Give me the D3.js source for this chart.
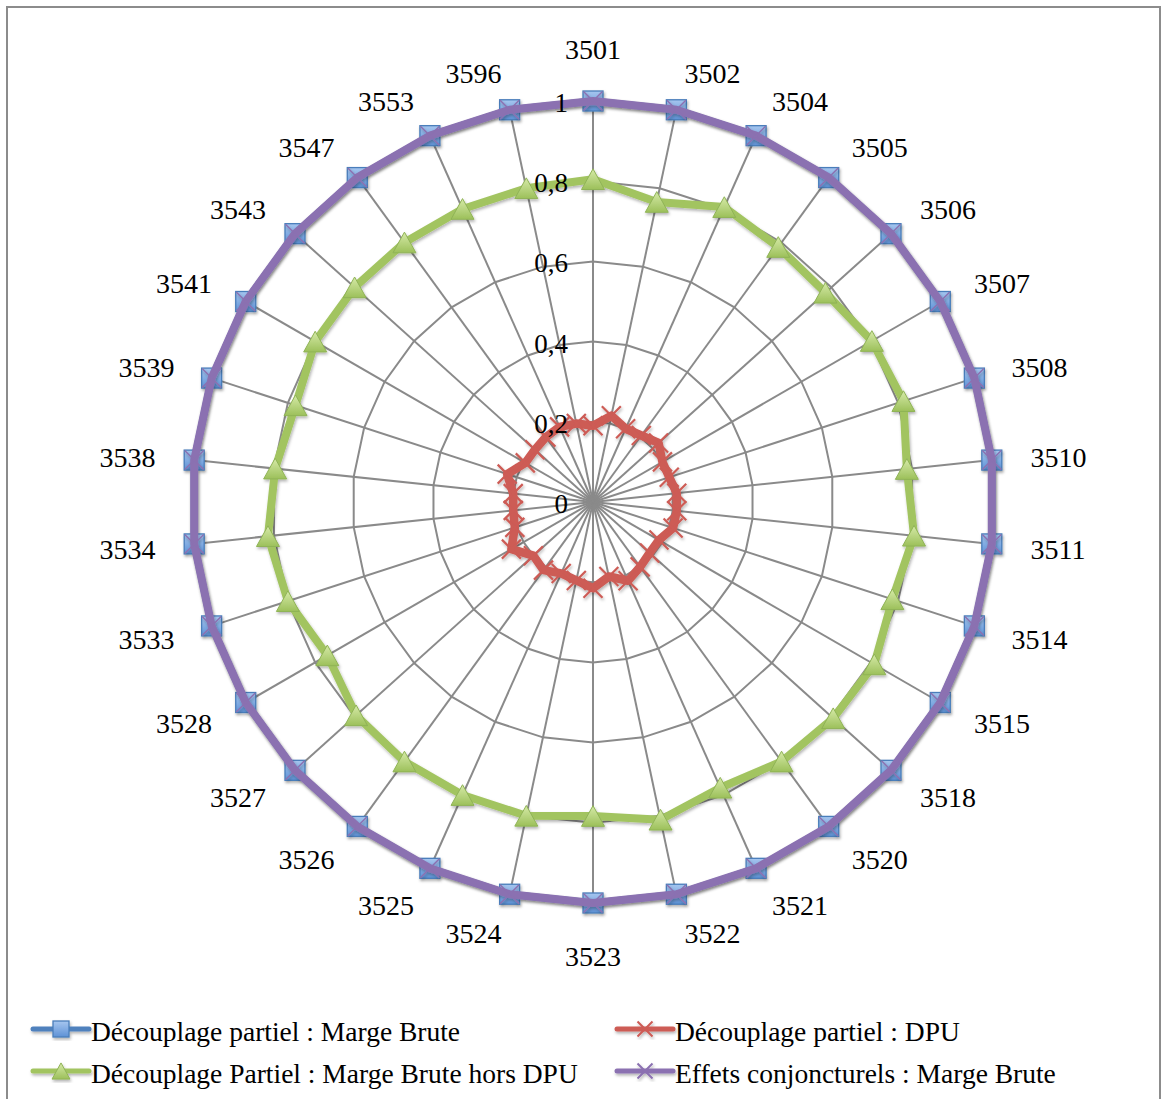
<!DOCTYPE html>
<html>
<head>
<meta charset="utf-8">
<script src="https://cdn.jsdelivr.net/npm/d3@7"></script>
<style>
  html, body { margin: 0; padding: 0; background: #ffffff; }
  svg { display: block; }
  text { font-family: "Liberation Serif", "DejaVu Serif", serif; fill: #000; }
</style>
</head>
<body>
<svg id="chart" width="1166" height="1099"></svg>
<script>
// ---------- DATA ----------
const categories = ["3501","3502","3504","3505","3506","3507","3508","3510","3511","3514",
  "3515","3518","3520","3521","3522","3523","3524","3525","3526","3527",
  "3528","3533","3534","3538","3539","3541","3543","3547","3553","3596"];

const seriesNames = [
  "Découplage partiel : Marge Brute",
  "Découplage partiel : DPU",
  "Découplage Partiel : Marge Brute hors DPU",
  "Effets conjoncturels : Marge Brute"
];

const margeBrute = [1,1,1,1,1,1,1,1,1,1,1,1,1,1,1,1,1,1,1,1,1,1,1,1,1,1,1,1,1,1];

const dpu = [0.19,0.22,0.20,0.205,0.22,0.20,0.20,0.21,0.21,0.21,
  0.19,0.19,0.20,0.215,0.19,0.215,0.20,0.195,0.21,0.20,
  0.235,0.205,0.20,0.20,0.225,0.195,0.195,0.20,0.205,0.20];

const margeHorsDPU = [0.805,0.765,0.805,0.786,0.78,0.803,0.814,0.787,0.805,0.785,
  0.81,0.806,0.80,0.78,0.81,0.783,0.80,0.80,0.80,0.795,
  0.765,0.80,0.815,0.797,0.78,0.80,0.80,0.80,0.80,0.80];

const effetsConj = [1,1,1,1,1,1,1,1,1,1,1,1,1,1,1,1,1,1,1,1,1,1,1,1,1,1,1,1,1,1];

const axisTicks = [0, 0.2, 0.4, 0.6, 0.8, 1];
const axisTickLabels = ["0", "0,2", "0,4", "0,6", "0,8", "1"];

// ---------- LAYOUT ----------
const svg = d3.select("#chart");
const W = 1166, H = 1099;
const cx = 593, cy = 502, R = 401;

const defs = svg.append("defs");
const sh = defs.append("filter").attr("id", "shadow")
  .attr("x", "-20%").attr("y", "-20%").attr("width", "140%").attr("height", "140%");
sh.append("feDropShadow").attr("dx", 1).attr("dy", 2).attr("stdDeviation", 1.5)
  .attr("flood-color", "#000").attr("flood-opacity", 0.3);

const gBlue = defs.append("linearGradient").attr("id", "gradBlue").attr("x1", 0).attr("y1", 0).attr("x2", 0).attr("y2", 1);
gBlue.append("stop").attr("offset", "0%").attr("stop-color", "#a6c6ef");
gBlue.append("stop").attr("offset", "100%").attr("stop-color", "#5e92d6");
const gGreen = defs.append("linearGradient").attr("id", "gradGreen").attr("x1", 0).attr("y1", 0).attr("x2", 0).attr("y2", 1);
gGreen.append("stop").attr("offset", "0%").attr("stop-color", "#d6eaa8");
gGreen.append("stop").attr("offset", "100%").attr("stop-color", "#9cc05a");

svg.append("rect").attr("x", 0).attr("y", 0).attr("width", W).attr("height", H).attr("fill", "#fff");
svg.append("rect").attr("x", 7).attr("y", 7).attr("width", 1153).attr("height", 1110)
  .attr("fill", "none").attr("stroke", "#8c8c8c").attr("stroke-width", 2);

const n = categories.length;
const angle = d3.scalePoint().domain(categories).range([0, 2 * Math.PI * (n - 1) / n]);
const r = d3.scaleLinear().domain([0, 1]).range([0, R]);

const g = svg.append("g").attr("transform", `translate(${cx},${cy})`);

function pt(cat, v) {
  const a = angle(cat);
  return [Math.sin(a) * r(v), -Math.cos(a) * r(v)];
}

// grid rings
const ringLine = d3.lineRadial()
  .angle(d => angle(d.c)).radius(d => r(d.v)).curve(d3.curveLinearClosed);
const gridG = g.append("g");
axisTicks.filter(t => t > 0).forEach(t => {
  gridG.append("path")
    .attr("d", ringLine(categories.map(c => ({ c, v: t }))))
    .attr("fill", "none").attr("stroke", "#8a8a8a").attr("stroke-width", 2);
});
// spokes
categories.forEach(c => {
  const a = angle(c);
  gridG.append("line").attr("x1", 0).attr("y1", 0)
    .attr("x2", Math.sin(a) * (R + 7)).attr("y2", -Math.cos(a) * (R + 7))
    .attr("stroke", "#8a8a8a").attr("stroke-width", 2);
});

// category labels
categories.forEach(c => {
  const a = angle(c);
  const d = R + 39;
  const s = Math.sin(a), co = Math.cos(a);
  const px = s * d, py = -co * d;
  let anchor = "middle", y = py + 11;
  if (Math.abs(s) < 0.05) {
    anchor = "middle";
    y = co > 0 ? py - 3 : py + 24;
  } else {
    anchor = s > 0 ? "start" : "end";
    y = py + 11;
  }
  g.append("text").attr("x", px).attr("y", y).attr("text-anchor", anchor)
    .attr("font-size", 28).text(c);
});

// ---------- SERIES ----------
const sLine = d3.lineRadial()
  .angle((d, i) => angle(categories[i])).radius(d => r(d)).curve(d3.curveLinearClosed);

const colors = { blue: "#4f81bd", red: "#cd5b55", green: "#a2c461", purple: "#8b71b1" };

function squareMarker(sel, x, y, s) {
  sel.append("rect").attr("x", x - s / 2).attr("y", y - s / 2).attr("width", s).attr("height", s)
    .attr("fill", "url(#gradBlue)").attr("stroke", "#4a7ebb").attr("stroke-width", 1.3);
}
function triMarker(sel, x, y, s) {
  const h = s * 0.9;
  sel.append("path").attr("d", `M${x},${y - h / 2}L${x + s / 2},${y + h / 2}L${x - s / 2},${y + h / 2}Z`)
    .attr("fill", "url(#gradGreen)").attr("stroke", "#8fb356").attr("stroke-width", 1);
}
function xMarker(sel, x, y, s, col, w) {
  sel.append("path").attr("d", `M${x - s},${y - s}L${x + s},${y + s}M${x - s},${y + s}L${x + s},${y - s}`)
    .attr("stroke", col).attr("stroke-width", w).attr("fill", "none");
}

// series 1: blue
const s1 = g.append("g").attr("filter", "url(#shadow)");
s1.append("path").attr("d", sLine(margeBrute)).attr("fill", "none")
  .attr("stroke", colors.blue).attr("stroke-width", 7).attr("stroke-linejoin", "round");
margeBrute.forEach((v, i) => { const [x, y] = pt(categories[i], v); squareMarker(s1, x, y, 20); });

// series 2: red
const s2 = g.append("g").attr("filter", "url(#shadow)");
s2.append("path").attr("d", sLine(dpu)).attr("fill", "none")
  .attr("stroke", colors.red).attr("stroke-width", 8.5).attr("stroke-linejoin", "round");
dpu.forEach((v, i) => { const [x, y] = pt(categories[i], v); xMarker(s2, x, y, 9.5, colors.red, 2.2); });

// series 3: green
const s3 = g.append("g").attr("filter", "url(#shadow)");
s3.append("path").attr("d", sLine(margeHorsDPU)).attr("fill", "none")
  .attr("stroke", colors.green).attr("stroke-width", 8).attr("stroke-linejoin", "round");
margeHorsDPU.forEach((v, i) => { const [x, y] = pt(categories[i], v); triMarker(s3, x, y, 23); });

// series 4: purple
const s4 = g.append("g").attr("filter", "url(#shadow)");
s4.append("path").attr("d", sLine(effetsConj)).attr("fill", "none")
  .attr("stroke", colors.purple).attr("stroke-width", 8).attr("stroke-linejoin", "round");
effetsConj.forEach((v, i) => { const [x, y] = pt(categories[i], v); xMarker(s4, x, y, 9.5, colors.purple, 1.5); });

// axis tick labels (drawn above the series, as in the reference)
axisTicks.forEach((t, i) => {
  g.append("text").attr("x", -25).attr("y", -r(t) + 11)
    .attr("text-anchor", "end").attr("font-size", 27).text(axisTickLabels[i]);
});

// ---------- LEGEND ----------
const legend = svg.append("g");
const legItems = [
  { name: seriesNames[0], x: 33, y: 1033, col: colors.blue, mk: "sq" },
  { name: seriesNames[1], x: 617, y: 1033, col: colors.red, mk: "xr" },
  { name: seriesNames[2], x: 33, y: 1075, col: colors.green, mk: "tri" },
  { name: seriesNames[3], x: 617, y: 1075, col: colors.purple, mk: "xp" }
];
legItems.forEach(it => {
  const lg = legend.append("g").attr("filter", "url(#shadow)");
  lg.append("line").attr("x1", it.x).attr("x2", it.x + 56).attr("y1", it.y - 4).attr("y2", it.y - 4)
    .attr("stroke", it.col).attr("stroke-width", 5).attr("stroke-linecap", "round");
  const mx = it.x + 28, my = it.y - 4;
  if (it.mk === "sq") squareMarker(lg, mx, my, 16);
  if (it.mk === "tri") triMarker(lg, mx, my, 18);
  if (it.mk === "xr") xMarker(lg, mx, my, 7.5, it.col, 2);
  if (it.mk === "xp") xMarker(lg, mx, my, 7.5, it.col, 2);
  legend.append("text").attr("x", it.x + 58).attr("y", it.y + 8)
    .attr("font-size", 27.5).text(it.name);
});
</script>
</body>
</html>
